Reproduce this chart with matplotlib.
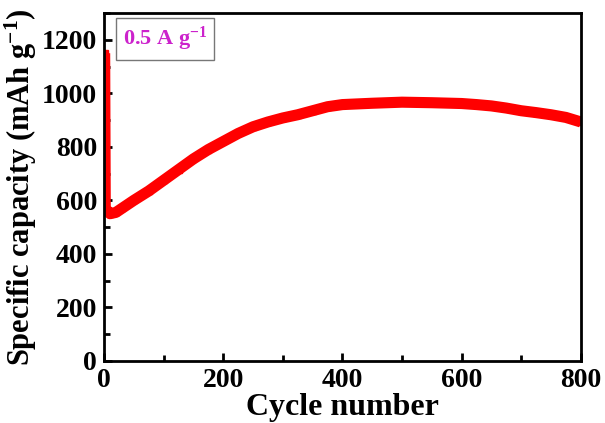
import matplotlib
matplotlib.use("Agg")
import matplotlib.pyplot as plt
from matplotlib.ticker import MultipleLocator

plt.rcParams['font.family'] = 'Liberation Serif'
plt.rcParams['font.weight'] = 'bold'
plt.rcParams['mathtext.fontset'] = 'custom'
plt.rcParams['mathtext.rm'] = 'Liberation Serif:bold'
plt.rcParams['mathtext.bf'] = 'Liberation Serif:bold'
plt.rcParams['mathtext.default'] = 'bf'

# datos
ciclos = [1, 2, 10, 20, 30, 50, 75, 100, 125, 150, 175, 200, 225, 250, 275, 300,
          325, 350, 375, 400, 450, 500, 550, 600, 625, 650, 675, 700, 725, 750,
          775, 800]
capacidad = [1150, 570, 550, 555, 570, 600, 635, 675, 715, 755, 790, 820, 850,
             875, 893, 908, 920, 935, 950, 958, 963, 967, 965, 962, 958, 953,
             945, 935, 928, 920, 910, 893]

fig = plt.figure(figsize=(6.05, 4.23), dpi=100)
ax = fig.add_axes([0.172, 0.147, 0.788, 0.822])

ax.plot(ciclos, capacidad, color='red', linewidth=8, marker='s', markersize=5,
        solid_capstyle='butt')

ax.set_xlim(0, 800)
ax.set_ylim(0, 1300)
ax.xaxis.set_major_locator(MultipleLocator(200))
ax.xaxis.set_minor_locator(MultipleLocator(100))
ax.yaxis.set_major_locator(MultipleLocator(200))
ax.yaxis.set_minor_locator(MultipleLocator(100))
ax.tick_params(which='both', direction='in', width=2, labelsize=20)
ax.tick_params(axis='x', pad=5)
ax.tick_params(axis='y', pad=5)
ax.tick_params(which='major', length=6)
ax.tick_params(which='minor', length=4)
for s in ax.spines.values():
    s.set_linewidth(2)

ax.set_xlabel('Cycle number', fontsize=23, fontweight='bold', labelpad=0)
ax.set_ylabel('Specific capacity (mAh g$^{-1}$)', fontsize=22, fontweight='bold', labelpad=2)

# caja con la densidad de corriente
ax.text(0.04, 0.925, '0.5 A g$^{-1}$', transform=ax.transAxes, color='#cc22cc',
        fontsize=16, fontweight='bold', va='center', ha='left',
        bbox=dict(boxstyle='square,pad=0.3', facecolor='white', edgecolor='#777777',
                  linewidth=1))

fig.savefig('out.png', dpi=100)
